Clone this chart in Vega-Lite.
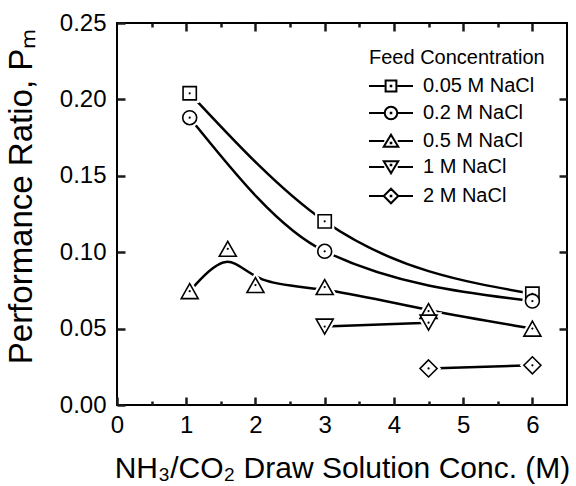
{
  "$schema": "https://vega.github.io/schema/vega-lite/v6.json",
  "width": 450,
  "height": 382,
  "autosize": {"type": "none"},
  "padding": {"left": 117, "top": 23, "right": 9, "bottom": 81},
  "background": "white",
  "config": {
    "view": {"stroke": "black", "strokeWidth": 2},
    "font": "Liberation Sans",
    "axis": {
      "grid": false,
      "labelColor": "black",
      "titleColor": "black",
      "labelFont": "Liberation Sans",
      "titleFont": "Liberation Sans",
      "titleFontWeight": "normal",
      "labelFlush": false,
      "labelOverlap": false
    },
    "legend": {
      "padding": 0,
      "titleFont": "Liberation Sans",
      "labelFont": "Liberation Sans"
    }
  },
  "data": {
    "values": [
      {"series": "0.05 M NaCl", "x": 1.05, "y": 0.204},
      {"series": "0.05 M NaCl", "x": 3, "y": 0.1202},
      {"series": "0.05 M NaCl", "x": 6, "y": 0.0728},
      {"series": "0.2 M NaCl", "x": 1.05, "y": 0.188},
      {"series": "0.2 M NaCl", "x": 3, "y": 0.1006},
      {"series": "0.2 M NaCl", "x": 6, "y": 0.068},
      {"series": "0.5 M NaCl", "x": 1.05, "y": 0.0745},
      {"series": "0.5 M NaCl", "x": 1.6, "y": 0.1022},
      {"series": "0.5 M NaCl", "x": 2, "y": 0.0785},
      {"series": "0.5 M NaCl", "x": 3, "y": 0.0772},
      {"series": "0.5 M NaCl", "x": 4.5, "y": 0.0615},
      {"series": "0.5 M NaCl", "x": 6, "y": 0.05},
      {"series": "1 M NaCl", "x": 3, "y": 0.0513},
      {"series": "1 M NaCl", "x": 4.5, "y": 0.0539},
      {"series": "2 M NaCl", "x": 4.5, "y": 0.0239},
      {"series": "2 M NaCl", "x": 6, "y": 0.026}
    ]
  },
  "resolve": {
    "scale": {"shape": "independent"},
    "axis": {"x": "independent", "y": "independent"}
  },
  "layer": [
    {
      "transform": [{"filter": "datum.series !== '0.5 M NaCl'"}],
      "mark": {"type": "line", "interpolate": "monotone", "color": "black", "strokeWidth": 2.5},
      "encoding": {
        "x": {
          "field": "x", "type": "quantitative",
          "scale": {"domain": [0, 6.5], "nice": false, "zero": false},
          "axis": {
            "orient": "bottom", "values": [0, 1, 2, 3, 4, 5, 6], "format": "d",
            "domain": false, "ticks": true, "tickColor": "#1a1a1a", "tickWidth": 2.5,
            "offset": -8, "tickSize": 8,
            "labelFontSize": 24, "labelPadding": 8,
            "title": "NH₃/CO₂ Draw Solution Conc. (M)",
            "titleFontSize": 30, "titleX": 225, "titleY": 80, "titleBaseline": "alphabetic"
          }
        },
        "y": {
          "field": "y", "type": "quantitative",
          "scale": {"domain": [0, 0.25], "nice": false},
          "axis": {
            "orient": "left", "values": [0, 0.05, 0.1, 0.15, 0.2, 0.25], "format": ".2f",
            "domain": false, "ticks": true, "tickColor": "#1a1a1a", "tickWidth": 2.5,
            "offset": -8, "tickSize": 8,
            "labelFontSize": 24, "labelPadding": 11,
            "title": "Performance Ratio, Pₘ",
            "titleFontSize": 33, "titleX": -94, "titleY": 173, "titleAngle": -90, "titleBaseline": "alphabetic"
          }
        },
        "detail": {"field": "series"}
      }
    },
    {
      "transform": [{"filter": "datum.series === '0.5 M NaCl'"}],
      "mark": {"type": "line", "interpolate": "basis", "color": "black", "strokeWidth": 2.5},
      "encoding": {
        "x": {
          "field": "x", "type": "quantitative",
          "scale": {"domain": [0, 6.5], "nice": false, "zero": false},
          "axis": {
            "orient": "top", "values": [1, 2, 3, 4, 5, 6],
            "labels": false, "title": "",
            "domain": false, "ticks": true, "tickColor": "#1a1a1a", "tickWidth": 2.5,
            "offset": -8, "tickSize": 8
          }
        },
        "y": {
          "field": "y", "type": "quantitative",
          "scale": {"domain": [0, 0.25], "nice": false},
          "axis": {
            "orient": "right", "values": [0.05, 0.1, 0.15, 0.2],
            "labels": false, "title": "",
            "domain": false, "ticks": true, "tickColor": "#1a1a1a", "tickWidth": 2.5,
            "offset": -8, "tickSize": 8
          }
        }
      }
    },
    {
      "mark": {"type": "point", "filled": true, "fill": "white", "stroke": "white", "strokeWidth": 6, "size": 289, "opacity": 1},
      "encoding": {
        "x": {
          "field": "x", "type": "quantitative",
          "scale": {"domain": [0, 6.5], "nice": false, "zero": false},
          "axis": {
            "orient": "bottom", "values": [0.5, 1.5, 2.5, 3.5, 4.5, 5.5],
            "labels": false, "title": "",
            "domain": false, "ticks": true, "tickColor": "#1a1a1a", "tickWidth": 2.5,
            "offset": -4, "tickSize": 4
          }
        },
        "y": {"field": "y", "type": "quantitative", "scale": {"domain": [0, 0.25], "nice": false}, "axis": null},
        "shape": {
          "field": "series", "type": "nominal", "legend": null,
          "scale": {
            "domain": ["0.05 M NaCl", "0.2 M NaCl", "0.5 M NaCl", "1 M NaCl", "2 M NaCl"],
            "range": [
              "M-0.78,-0.78H0.78V0.78H-0.78Z",
              "M0.82,0A0.82,0.82,0,1,1,-0.82,0A0.82,0.82,0,1,1,0.82,0Z",
              "M0,-0.88L1,0.88L-1,0.88Z",
              "M0,0.88L1,-0.88L-1,-0.88Z",
              "M0,-1L1,0L0,1L-1,0Z"
            ]
          }
        }
      }
    },
    {
      "mark": {"type": "point", "filled": true, "fill": "white", "stroke": "black", "strokeWidth": 1.6, "size": 289, "opacity": 1},
      "encoding": {
        "x": {
          "field": "x", "type": "quantitative",
          "scale": {"domain": [0, 6.5], "nice": false, "zero": false},
          "axis": {
            "orient": "top", "values": [0.5, 1.5, 2.5, 3.5, 4.5, 5.5],
            "labels": false, "title": "",
            "domain": false, "ticks": true, "tickColor": "#1a1a1a", "tickWidth": 2.5,
            "offset": -4, "tickSize": 4
          }
        },
        "y": {"field": "y", "type": "quantitative", "scale": {"domain": [0, 0.25], "nice": false}, "axis": null},
        "shape": {
          "field": "series", "type": "nominal", "legend": null,
          "scale": {
            "domain": ["0.05 M NaCl", "0.2 M NaCl", "0.5 M NaCl", "1 M NaCl", "2 M NaCl"],
            "range": [
              "M-0.78,-0.78H0.78V0.78H-0.78Z",
              "M0.82,0A0.82,0.82,0,1,1,-0.82,0A0.82,0.82,0,1,1,0.82,0Z",
              "M0,-0.88L1,0.88L-1,0.88Z",
              "M0,0.88L1,-0.88L-1,-0.88Z",
              "M0,-1L1,0L0,1L-1,0Z"
            ]
          }
        }
      }
    },
    {
      "mark": {"type": "point", "filled": true, "color": "black", "size": 5, "shape": "circle", "opacity": 1},
      "encoding": {
        "x": {"field": "x", "type": "quantitative", "scale": {"domain": [0, 6.5], "nice": false, "zero": false}, "axis": null},
        "y": {"field": "y", "type": "quantitative", "scale": {"domain": [0, 0.25], "nice": false}, "axis": null}
      }
    },
    {
      "mark": {"type": "point", "filled": false, "stroke": "black", "strokeWidth": 2, "size": 100, "opacity": 0},
      "encoding": {
        "x": {"field": "x", "type": "quantitative", "scale": {"domain": [0, 6.5], "nice": false, "zero": false}, "axis": null},
        "y": {"field": "y", "type": "quantitative", "scale": {"domain": [0, 0.25], "nice": false}, "axis": null},
        "shape": {
          "field": "series", "type": "nominal",
          "scale": {
            "domain": ["0.05 M NaCl", "0.2 M NaCl", "0.5 M NaCl", "1 M NaCl", "2 M NaCl"],
            "range": [
              "M-4.4,0H-1.3M1.3,0H4.4M-1.08,-1.08H1.08V1.08H-1.08ZM-0.06,-0.06H0.06V0.06H-0.06Z",
              "M-4.4,0H-1.35M1.35,0H4.4M1.25,0A1.25,1.25,0,1,1,-1.25,0A1.25,1.25,0,1,1,1.25,0ZM-0.06,-0.06H0.06V0.06H-0.06Z",
              "M-4.4,0H-1.35M1.35,0H4.4M0,-1.25L1.45,1.15L-1.45,1.15ZM-0.06,0.35H0.06V0.47H-0.06Z",
              "M-4.4,0H-1.35M1.35,0H4.4M0,1.25L1.45,-1.15L-1.45,-1.15ZM-0.06,-0.47H0.06V-0.35H-0.06Z",
              "M-4.4,0H-1.55M1.55,0H4.4M0,-1.45L1.45,0L0,1.45L-1.45,0ZM-0.06,-0.06H0.06V0.06H-0.06Z"
            ]
          },
          "legend": {
            "orient": "none", "legendX": 252, "legendY": 25,
            "title": "Feed Concentration", "titleFontSize": 20, "titleFontWeight": "normal", "titleColor": "black",
            "titlePadding": 8,
            "labelFontSize": 20, "labelColor": "black",
            "symbolOffset": 12, "labelOffset": 22, "rowPadding": 6,
            "symbolSize": 100, "symbolStrokeWidth": 2, "symbolOpacity": 1,
            "symbolStrokeColor": "black", "symbolFillColor": "transparent"
          }
        }
      }
    }
  ]
}
